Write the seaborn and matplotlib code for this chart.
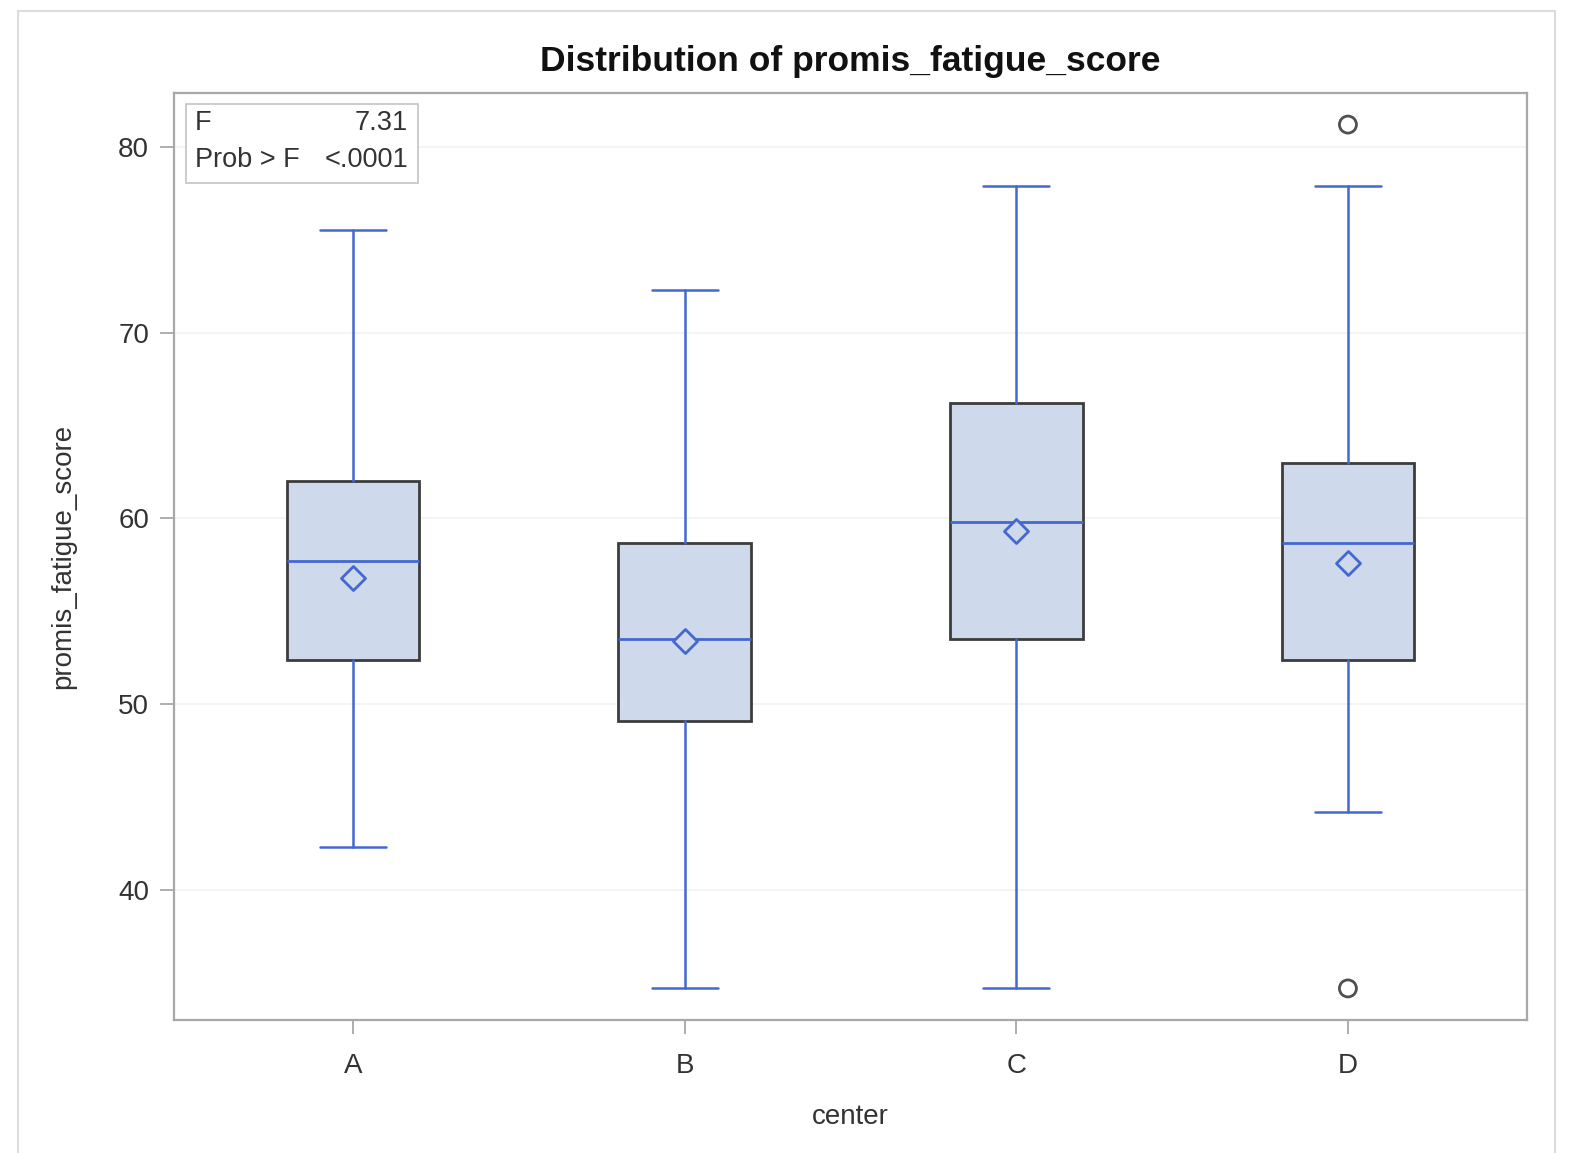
import matplotlib
matplotlib.use("Agg")
import matplotlib.pyplot as plt
import seaborn as sns
import pandas as pd
from matplotlib.patches import Rectangle

# ---- data ----
centers = ["A", "B", "C", "D"]
whisker_low = [42.3, 34.7, 34.7, 44.2]
q1 = [52.4, 49.1, 53.5, 52.4]
median = [57.7, 53.5, 59.8, 58.7]
q3 = [62.0, 58.7, 66.2, 63.0]
whisker_high = [75.5, 72.3, 77.9, 77.9]
means = [56.8, 53.4, 59.3, 57.6]
outlier_center = ["D", "D"]
outlier_value = [81.2, 34.7]
stat_labels = ["F", "Prob > F"]
stat_values = ["7.31", "<.0001"]
yticks = [40, 50, 60, 70, 80]

BOX_FILL = "#cfd9ec"
BOX_EDGE = "#3c3c3c"
BLUE = "#4468cf"
FONT = ["Liberation Sans", "DejaVu Sans"]

sns.set_theme(style="white")
plt.rcParams["font.family"] = FONT

fig = plt.figure(figsize=(15.7, 11.53), dpi=100)
# outer light border
fig.patches.append(Rectangle((18 / 1570, -0.01), (1555 - 18) / 1570, 1 - 11 / 1153 + 0.01,
                             transform=fig.transFigure, fill=False,
                             edgecolor="#dcdcdc", linewidth=1.5))
ax = fig.add_axes([174 / 1570, 1 - 1020 / 1153, (1527 - 174) / 1570, (1020 - 93) / 1153])

stats = []
for i, c in enumerate(centers):
    stats.append(dict(label=c, whislo=whisker_low[i], q1=q1[i], med=median[i],
                      q3=q3[i], whishi=whisker_high[i], fliers=[]))

ax.bxp(stats, positions=range(len(centers)), widths=0.4, patch_artist=True,
       showfliers=False, showmeans=False,
       boxprops=dict(facecolor=BOX_FILL, edgecolor=BOX_EDGE, linewidth=2.0),
       medianprops=dict(color=BLUE, linewidth=2.0),
       whiskerprops=dict(color=BLUE, linewidth=1.8),
       capprops=dict(color=BLUE, linewidth=1.8),
       capwidths=0.2, zorder=2)

mean_df = pd.DataFrame({"center": range(len(centers)), "mean": means})
sns.scatterplot(data=mean_df, x="center", y="mean", marker="D", s=150,
                facecolor=BOX_FILL, edgecolor=BLUE, linewidth=2.0, ax=ax, zorder=4)

out_df = pd.DataFrame({"center": [centers.index(c) for c in outlier_center],
                       "value": outlier_value})
sns.scatterplot(data=out_df, x="center", y="value", marker="o", s=150,
                facecolor="none", edgecolor="#505050", linewidth=2.0, ax=ax, zorder=4)

ax.set_xlim(-0.54, 3.54)
ax.set_ylim(33.0, 82.9)
ax.set_xticks(range(len(centers)))
ax.set_xticklabels(centers)
ax.set_yticks(yticks)
ax.yaxis.grid(True, color="#f2f2f2", linewidth=1.2)
ax.set_axisbelow(True)
for s in ax.spines.values():
    s.set_color("#a8a8a8")
    s.set_linewidth(1.6)
ax.tick_params(axis="both", which="both", length=10, width=1.3, color="#a8a8a8",
               labelsize=20, labelcolor="#333333", direction="out")
ax.tick_params(axis="x", pad=14)
ax.tick_params(axis="y", pad=8)
ax.tick_params(left=True, bottom=True)

ax.set_xlabel("center", fontsize=20, color="#333333", labelpad=18)
ax.set_ylabel("promis_fatigue_score", fontsize=20, color="#333333", labelpad=30)
ax.set_title("Distribution of promis_fatigue_score", fontsize=25.5, fontweight="bold",
             color="#111111", pad=16)

# stats inset box
ax.add_patch(Rectangle((186 / 1570, 1 - 183 / 1153), (418 - 186) / 1570, (183 - 104) / 1153,
                       transform=fig.transFigure, fill=True, facecolor="white",
                       edgecolor="#c8c8c8", linewidth=1.3, zorder=5))
for j, (lab, val) in enumerate(zip(stat_labels, stat_values)):
    yy = 1 - (123 + 37 * j) / 1153
    fig.text(195 / 1570, yy, lab, fontsize=19.5, color="#333333", va="center", ha="left", zorder=6)
    fig.text(408 / 1570, yy, val, fontsize=19.5, color="#333333", va="center", ha="right", zorder=6)

fig.savefig("out.png", dpi=100)
